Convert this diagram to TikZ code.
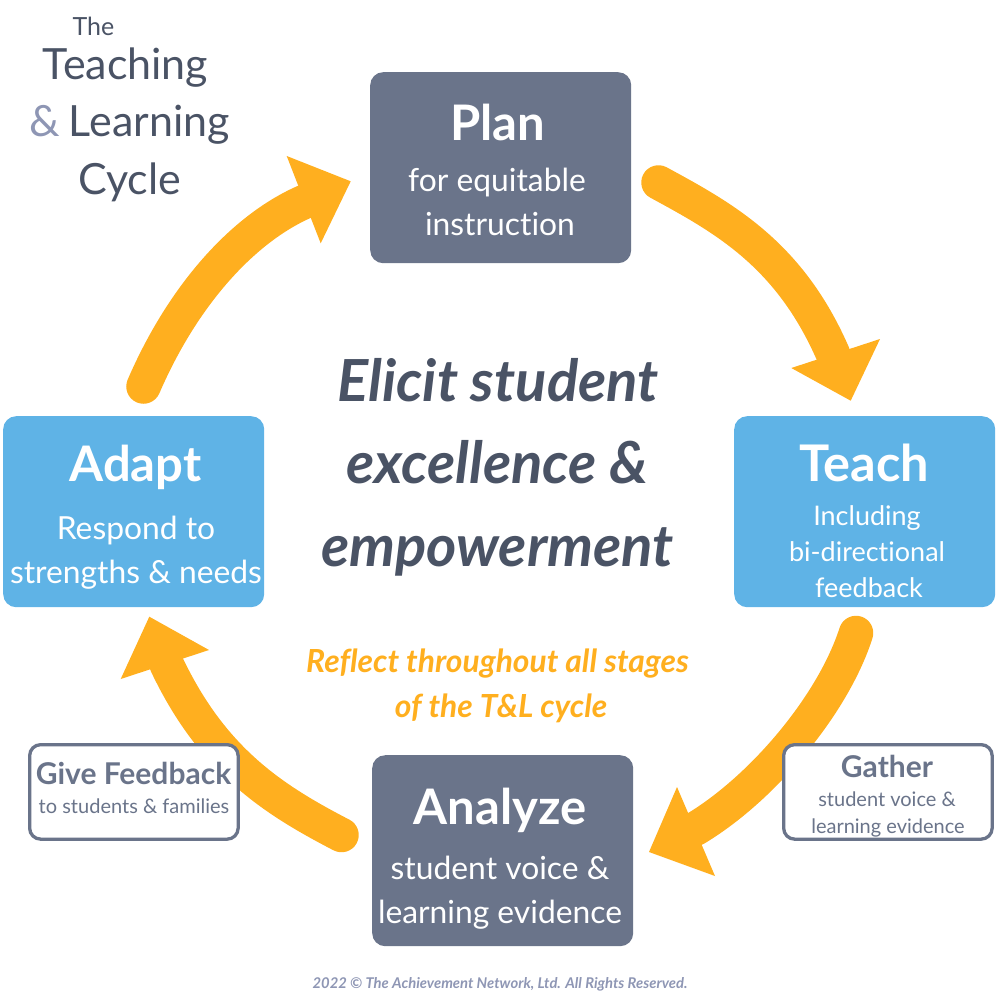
\documentclass[tikz,border=0pt]{standalone}
\usepackage{fontspec}
\setmainfont{Lato}[Ligatures=CommonOff]
\definecolor{slate}{HTML}{6A748A}
\definecolor{sky}{HTML}{5FB3E6}
\definecolor{amber}{HTML}{FFAF1F}
\definecolor{ink}{HTML}{4A5365}
\definecolor{amp}{HTML}{8E96B4}
\tikzset{
  box/.style={rounded corners=13pt,minimum width=261pt,minimum height=191pt,inner sep=0,anchor=north west},
  slatebox/.style={box,fill=slate},
  skybox/.style={box,fill=sky},
  notebox/.style={draw=slate,line width=3.3pt,fill=white,rounded corners=11pt,inner sep=0,anchor=north west},
  txt/.style={inner sep=0,align=center,anchor=base},
  head/.style={txt,text=white,font=\fontsize{49}{49}\selectfont\bfseries},
  sub/.style={txt,text=white,font=\fontsize{31.8}{32}\selectfont},
  small/.style={txt,text=white,font=\fontsize{27}{27}\selectfont},
  main/.style={txt,text=ink,font=\fontsize{58}{58}\selectfont\bfseries\itshape},
  title/.style={txt,text=ink,font=\fontsize{43}{43}\selectfont},
  reflect/.style={txt,text=amber,font=\fontsize{31.8}{32}\selectfont\bfseries\itshape},
  shaft/.style={draw=amber,line width=34.5pt,line cap=round},
  tipfill/.style={fill=amber},
  notehead/.style={txt,text=slate,font=\fontsize{30}{30}\selectfont\bfseries},
  notesub/.style={txt,text=slate,font=\fontsize{20}{20}\selectfont}
}
\begin{document}
\begin{tikzpicture}[x=1pt,y=-1pt]
\useasboundingbox (0,0) rectangle (1000,1000);
% arrows
\coordinate (a1s) at (143.5,386.5); \coordinate (a1e) at (304,202);
\coordinate (a2s) at (658.5,182.5); \coordinate (a2e) at (833,354);
\coordinate (a3s) at (856,633); \coordinate (a3e) at (695,829);
\coordinate (a4s) at (341.5,835); \coordinate (a4e) at (166.5,664);
\draw[shaft] (a1s) .. controls (183,295) and (243,229) .. (a1e);
\fill[tipfill] (350.7,181.3) -- (286.7,156) -- (320.7,243.3) -- cycle;
\draw[shaft] (a2s) .. controls (724,218) and (789.5,254) .. (a2e);
\fill[tipfill] (850.7,400.7) -- (880,339) -- (791.3,368) -- cycle;
\draw[shaft] (a3s) .. controls (833,705) and (762,789) .. (a3e);
\fill[tipfill] (649,852) -- (677,787) -- (715,876) -- cycle;
\draw[shaft] (a4s) .. controls (272,799) and (212,760) .. (a4e);
\fill[tipfill] (149.3,616.7) -- (120.7,679) -- (209,650) -- cycle;
% boxes
\node[slatebox] (plan) at (370,72) {};
\node[skybox] (teach) at (734,416) {};
\node[skybox] (adapt) at (3,416) {};
\node[slatebox] (analyze) at (372,755) {};
\node[notebox,minimum width=208.5pt,minimum height=94.5pt] (fb) at (28,743) {};
\node[notebox,minimum width=208.5pt,minimum height=94.5pt] (gather) at (782,743) {};
% box texts
\node[head] at (497.5,141) {Plan};
\node[sub] at (497,192) {for equitable};
\node[sub] at (500,236) {instruction};
\node[head,font=\fontsize{50.5}{50}\selectfont\bfseries] at (864.5,481) {Teach};
\node[small] at (867,525) {Including};
\node[small] at (867,561) {bi-directional};
\node[small] at (869,597) {feedback};
\node[head] at (135.5,481) {Adapt};
\node[sub] at (136,539) {Respond to};
\node[sub] at (136,583) {strengths \& needs};
\node[head] at (500,824) {Analyze};
\node[sub] at (500,879) {student voice \&};
\node[sub] at (500,923) {learning evidence};
\node[notehead] at (133.5,784) {Give Feedback};
\node[notesub] at (134,813) {to students \& families};
\node[notehead] at (887,777) {Gather};
\node[notesub] at (887,806) {student voice \&};
\node[notesub] at (888,833) {learning evidence};
% centre
\node[main] at (498,401) {Elicit student};
\node[main] at (497,483) {excellence \&};
\node[main] at (497.5,566) {empowerment};
\node[reflect] at (497.5,672) {Reflect throughout all stages};
\node[reflect] at (501,717) {of the T\&L cycle};
% title
\node[txt,text=ink,font=\fontsize{25}{25}\selectfont] at (93.5,36) {The};
\node[title] at (125.5,80) {Teaching};
\node[title] at (129.5,137) {{\color{amp}\&}\hspace{9pt}Learning};
\node[title] at (129.5,195) {Cycle};
\node[txt,text=amp,font=\fontsize{14.8}{15}\selectfont\bfseries\itshape] at (500,988) {2022 © The Achievement Network, Ltd. All Rights Reserved.};
\end{tikzpicture}
\end{document}
